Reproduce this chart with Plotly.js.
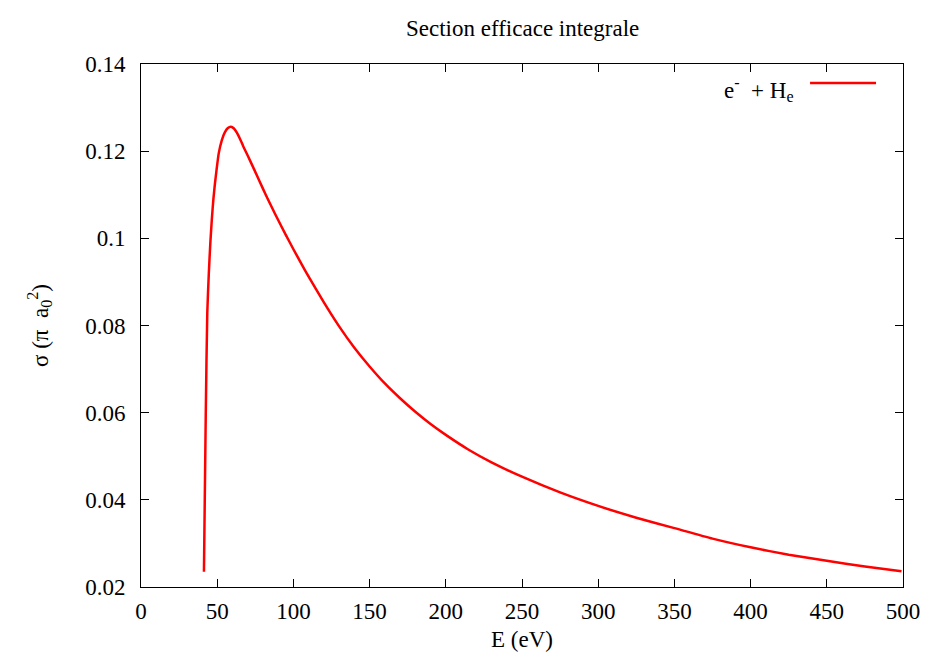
<!DOCTYPE html>
<html>
<head>
<meta charset="utf-8">
<script src="https://cdn.plot.ly/plotly-3.0.1.min.js"></script>
<style>html,body{margin:0;padding:0;background:#fff;}#chart{width:930px;height:662px;}</style>
</head>
<body>
<div id="chart"></div>
<script>
const energy = [41.3, 42.5, 43.5, 44.5, 45.5, 46.5, 47.5, 48.5, 49.5, 51, 53, 55, 57, 59, 61, 63, 65, 67, 70, 74, 78, 82, 86, 90, 95, 100, 105, 110, 120, 130, 140, 150, 160, 170, 180, 190, 200, 215, 230, 250, 275, 300, 325, 350, 375, 400, 425, 450, 475, 499];
const sigma = [0.0235, 0.060, 0.083, 0.092, 0.099, 0.1045, 0.109, 0.1125, 0.1155, 0.1195, 0.1225, 0.1243, 0.1253, 0.1256, 0.1252, 0.1242, 0.1228, 0.1212, 0.1190, 0.1160, 0.1129, 0.1099, 0.1070, 0.1042, 0.1008, 0.0975, 0.0943, 0.0912, 0.0853, 0.0798, 0.0749, 0.0706, 0.0667, 0.0633, 0.0602, 0.0574, 0.0549, 0.0515, 0.0486, 0.0453, 0.0417, 0.0386, 0.0359, 0.0335, 0.0311, 0.0291, 0.0274, 0.0260, 0.0247, 0.0236];
const xTicks = [0, 50, 100, 150, 200, 250, 300, 350, 400, 450, 500];
const yTicks = [0.02, 0.04, 0.06, 0.08, 0.1, 0.12, 0.14];
const yTickLabels = ['0.02', '0.04', '0.06', '0.08', '0.1', '0.12', '0.14'];
const seriesName = 'e<sup>-</sup>  + H<sub>e</sub>';

const font = {family: 'Liberation Serif', color: '#000'};
const fs = 23;

const trace = {
  x: energy, y: sigma, type: 'scatter', mode: 'lines',
  line: {color: '#ff0000', width: 2.5, shape: 'spline', smoothing: 0.5}, name: seriesName, showlegend: false
};

const axisCommon = {
  showline: true, linecolor: '#000', linewidth: 1, mirror: 'allticks',
  ticks: 'inside', ticklen: 8, tickwidth: 1, tickcolor: '#000',
  showgrid: false, zeroline: false,
  tickfont: Object.assign({size: fs}, font)
};

const layout = {
  width: 930, height: 662,
  margin: {l: 141, r: 27, t: 64, b: 75},
  paper_bgcolor: '#fff', plot_bgcolor: '#fff',
  font: font,
  title: {text: 'Section efficace integrale', font: Object.assign({size: fs}, font), x: 0.562, xanchor: 'center', y: 0.958, yanchor: 'middle'},
  xaxis: Object.assign({}, axisCommon, {
    range: [0, 500], tickvals: xTicks, ticktext: xTicks.map(String),
    ticklabelstandoff: 3,
    title: {text: 'E (eV)', font: Object.assign({size: fs}, font), standoff: 8}
  }),
  yaxis: Object.assign({}, axisCommon, {
    range: [0.02, 0.14], tickvals: yTicks, ticktext: yTickLabels,
    ticklabelstandoff: 10,
    title: {text: 'σ (π  a<sub>0</sub><sup>2</sup>)', font: Object.assign({size: fs}, font), standoff: 30}
  }),
  annotations: [{
    xref: 'paper', yref: 'paper', x: 0.8596, y: 0.952, xanchor: 'right', yanchor: 'middle',
    text: seriesName, showarrow: false, font: Object.assign({size: fs}, font)
  }],
  shapes: [{
    type: 'line', xref: 'paper', yref: 'paper', x0: 0.878, x1: 0.9646, y0: 0.9637, y1: 0.9637,
    line: {color: '#ff0000', width: 2.5}
  }]
};

Plotly.newPlot('chart', [trace], layout, {displayModeBar: false, responsive: false});
</script>
</body>
</html>
